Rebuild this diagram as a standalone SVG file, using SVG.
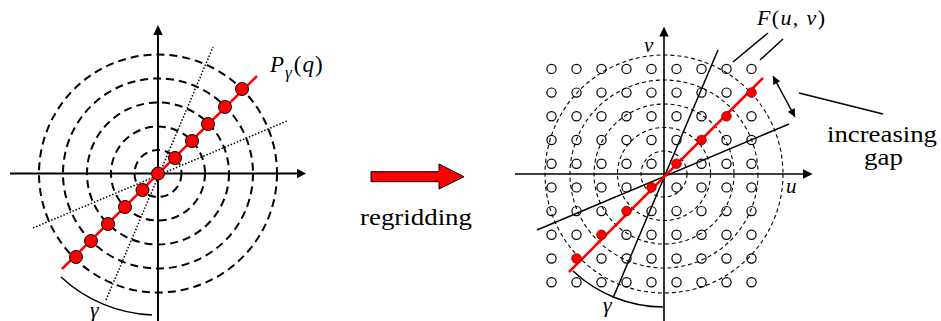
<svg xmlns="http://www.w3.org/2000/svg" xmlns:xlink="http://www.w3.org/1999/xlink" width="941" height="321" viewBox="0 0 941 321">
<style>
.dl{fill:none;stroke:#000;stroke-width:2;stroke-dasharray:8 5}
.dr{fill:none;stroke:#000;stroke-width:1.1;stroke-dasharray:4 3}
.ax{fill:none;stroke:#000;stroke-width:2}
.axr{fill:none;stroke:#000;stroke-width:1.6}
.dot{fill:none;stroke:#000;stroke-width:1.5;stroke-dasharray:1.5 1.8}
.ln{fill:none;stroke:#000;stroke-width:1.5}
.red{fill:none;stroke:#f00;stroke-width:2.5}
.rp{fill:#f00;stroke:#000;stroke-width:1}
.rg{fill:#f00;stroke:#700;stroke-width:0.8}
.gc{fill:none;stroke:#000;stroke-width:1.2}
text{font-family:"Liberation Serif","LiberationSerif","Times New Roman",Times,"DejaVu Serif","Noto Serif",FreeSerif,serif;fill:#000}
.m{font-style:italic}
</style>
<defs>
<circle id="g" r="4.6" class="gc"/>
<marker id="ah" viewBox="0 0 10 10" refX="10" refY="5" markerWidth="10" markerHeight="8" markerUnits="userSpaceOnUse" orient="auto-start-reverse"><path d="M0,0 L10,5 L0,10 z" fill="#000"/></marker>
</defs>

<g id="left-panel">
<g id="left-circles">
<circle cx="158" cy="173.5" r="23.5" class="dl"/>
<circle cx="158" cy="173.5" r="47" class="dl"/>
<circle cx="158" cy="173.5" r="71" class="dl"/>
<circle cx="158" cy="173.5" r="95" class="dl"/>
<circle cx="158" cy="173.5" r="119" class="dl"/>
</g>
<g id="left-axes">
<line x1="10" y1="173.5" x2="298" y2="173.5" class="ax"/>
<path d="M306,173.5 L297,168.8 L297,178.2 z" fill="#000"/>
<line x1="158" y1="321" x2="158" y2="34" class="ax"/>
<path d="M158,25 L153.3,35 L162.7,35 z" fill="#000"/>
</g>
<g id="left-dotted">
<line x1="33" y1="228" x2="287" y2="121" class="dot"/>
<line x1="106" y1="300" x2="213" y2="47" class="dot"/>
</g>
<path id="left-arc" d="M61,277 A141.7,141.7 0 0 0 152,315" class="ln"/>
<line x1="62" y1="269" x2="257" y2="76" class="red"/>
<g id="left-points">
<circle cx="242" cy="89" r="6.5" class="rp"/>
<circle cx="225" cy="107" r="6.5" class="rp"/>
<circle cx="208" cy="124" r="6.5" class="rp"/>
<circle cx="192" cy="141" r="6.5" class="rp"/>
<circle cx="175" cy="158" r="6.5" class="rp"/>
<circle cx="158" cy="173.5" r="6.5" class="rp"/>
<circle cx="142.5" cy="190" r="6.5" class="rp"/>
<circle cx="125" cy="207" r="6.5" class="rp"/>
<circle cx="108" cy="224" r="6.5" class="rp"/>
<circle cx="91" cy="241" r="6.5" class="rp"/>
<circle cx="76" cy="257" r="6.5" class="rp"/>
</g>
<text font-size="23" x="270" y="72"><tspan class="m">P</tspan><tspan class="m" font-size="17" dx="1" dy="6">γ</tspan><tspan dx="2" dy="-6">(</tspan><tspan class="m" dx="1">q</tspan><tspan dx="1">)</tspan></text>
<text class="m" x="90" y="317" font-size="22">γ</text>
</g>

<g id="regrid-arrow">
<path d="M371,171.7 L439,171.7 L439,164 L464,176.7 L439,189 L439,181.7 L371,181.7 z" fill="#f00" stroke="#000" stroke-width="1"/>
<text x="360" y="225" font-size="23" textLength="112" lengthAdjust="spacingAndGlyphs">regridding</text>
</g>

<g id="right-panel">
<g id="right-circles">
<circle cx="664" cy="174" r="23" class="dr"/>
<circle cx="664" cy="174" r="46.5" class="dr"/>
<circle cx="664" cy="174" r="70" class="dr"/>
<circle cx="664" cy="174" r="94" class="dr"/>
<circle cx="664" cy="174" r="119" class="dr"/>
</g>
<g id="grid">
<use xlink:href="#g" x="551.5" y="68.9"/><use xlink:href="#g" x="576.5" y="68.9"/><use xlink:href="#g" x="601.5" y="68.9"/><use xlink:href="#g" x="626.5" y="68.9"/><use xlink:href="#g" x="651.5" y="68.9"/><use xlink:href="#g" x="676.5" y="68.9"/><use xlink:href="#g" x="701.5" y="68.9"/><use xlink:href="#g" x="726.5" y="68.9"/><use xlink:href="#g" x="751.5" y="68.9"/>
<use xlink:href="#g" x="551.5" y="92.6"/><use xlink:href="#g" x="576.5" y="92.6"/><use xlink:href="#g" x="601.5" y="92.6"/><use xlink:href="#g" x="626.5" y="92.6"/><use xlink:href="#g" x="651.5" y="92.6"/><use xlink:href="#g" x="676.5" y="92.6"/><use xlink:href="#g" x="701.5" y="92.6"/><use xlink:href="#g" x="726.5" y="92.6"/>
<use xlink:href="#g" x="551.5" y="116.3"/><use xlink:href="#g" x="576.5" y="116.3"/><use xlink:href="#g" x="601.5" y="116.3"/><use xlink:href="#g" x="626.5" y="116.3"/><use xlink:href="#g" x="651.5" y="116.3"/><use xlink:href="#g" x="676.5" y="116.3"/><use xlink:href="#g" x="701.5" y="116.3"/><use xlink:href="#g" x="751.5" y="116.3"/>
<use xlink:href="#g" x="551.5" y="140"/><use xlink:href="#g" x="576.5" y="140"/><use xlink:href="#g" x="601.5" y="140"/><use xlink:href="#g" x="626.5" y="140"/><use xlink:href="#g" x="651.5" y="140"/><use xlink:href="#g" x="676.5" y="140"/><use xlink:href="#g" x="726.5" y="140"/><use xlink:href="#g" x="751.5" y="140"/>
<use xlink:href="#g" x="551.5" y="163.7"/><use xlink:href="#g" x="576.5" y="163.7"/><use xlink:href="#g" x="601.5" y="163.7"/><use xlink:href="#g" x="626.5" y="163.7"/><use xlink:href="#g" x="651.5" y="163.7"/><use xlink:href="#g" x="701.5" y="163.7"/><use xlink:href="#g" x="726.5" y="163.7"/><use xlink:href="#g" x="751.5" y="163.7"/>
<use xlink:href="#g" x="551.5" y="187.4"/><use xlink:href="#g" x="576.5" y="187.4"/><use xlink:href="#g" x="601.5" y="187.4"/><use xlink:href="#g" x="626.5" y="187.4"/><use xlink:href="#g" x="676.5" y="187.4"/><use xlink:href="#g" x="701.5" y="187.4"/><use xlink:href="#g" x="726.5" y="187.4"/><use xlink:href="#g" x="751.5" y="187.4"/>
<use xlink:href="#g" x="551.5" y="211.1"/><use xlink:href="#g" x="576.5" y="211.1"/><use xlink:href="#g" x="601.5" y="211.1"/><use xlink:href="#g" x="651.5" y="211.1"/><use xlink:href="#g" x="676.5" y="211.1"/><use xlink:href="#g" x="701.5" y="211.1"/><use xlink:href="#g" x="726.5" y="211.1"/><use xlink:href="#g" x="751.5" y="211.1"/>
<use xlink:href="#g" x="551.5" y="234.8"/><use xlink:href="#g" x="576.5" y="234.8"/><use xlink:href="#g" x="626.5" y="234.8"/><use xlink:href="#g" x="651.5" y="234.8"/><use xlink:href="#g" x="676.5" y="234.8"/><use xlink:href="#g" x="701.5" y="234.8"/><use xlink:href="#g" x="726.5" y="234.8"/><use xlink:href="#g" x="751.5" y="234.8"/>
<use xlink:href="#g" x="551.5" y="258.5"/><use xlink:href="#g" x="601.5" y="258.5"/><use xlink:href="#g" x="626.5" y="258.5"/><use xlink:href="#g" x="651.5" y="258.5"/><use xlink:href="#g" x="676.5" y="258.5"/><use xlink:href="#g" x="701.5" y="258.5"/><use xlink:href="#g" x="726.5" y="258.5"/><use xlink:href="#g" x="751.5" y="258.5"/>
<use xlink:href="#g" x="551.5" y="282.2"/><use xlink:href="#g" x="576.5" y="282.2"/><use xlink:href="#g" x="601.5" y="282.2"/><use xlink:href="#g" x="626.5" y="282.2"/><use xlink:href="#g" x="651.5" y="282.2"/><use xlink:href="#g" x="676.5" y="282.2"/><use xlink:href="#g" x="701.5" y="282.2"/><use xlink:href="#g" x="726.5" y="282.2"/><use xlink:href="#g" x="751.5" y="282.2"/>
</g>
<g id="right-axes">
<line x1="515" y1="174" x2="804" y2="174" class="axr"/>
<path d="M812.7,174 L803,169.3 L803,178.7 z" fill="#000"/>
<line x1="664" y1="321" x2="664" y2="35" class="axr"/>
<path d="M664,26.7 L659.3,36.5 L668.7,36.5 z" fill="#000"/>
</g>
<g id="right-lines">
<line x1="537" y1="230" x2="789" y2="124" class="ln"/>
<line x1="613" y1="298" x2="718" y2="50" class="ln"/>
<path d="M573,271 A133,133 0 0 0 663,307" class="ln"/>
</g>
<line x1="569" y1="272" x2="763" y2="78" class="red" stroke-width="2.2"/>
<g id="right-points">
<circle cx="751.5" cy="92.6" r="4.8" class="rg"/>
<circle cx="726.5" cy="116.3" r="4.8" class="rg"/>
<circle cx="701.5" cy="140" r="4.8" class="rg"/>
<circle cx="676.5" cy="163.7" r="4.8" class="rg"/>
<circle cx="651.5" cy="187.4" r="4.8" class="rg"/>
<circle cx="626.5" cy="211.1" r="4.8" class="rg"/>
<circle cx="601.5" cy="234.8" r="4.8" class="rg"/>
<circle cx="576.5" cy="258.5" r="4.8" class="rg"/>
</g>
<g id="connectors">
<line x1="733" y1="62" x2="768" y2="33" class="ln" stroke-width="1.3"/>
<line x1="760" y1="60" x2="783" y2="39" class="ln" stroke-width="1.3"/>
<line x1="773" y1="76" x2="795" y2="117" class="ln" marker-start="url(#ah)" marker-end="url(#ah)"/>
<line x1="799" y1="93" x2="883" y2="114" class="ln" stroke-width="1.3"/>
</g>
<text class="m" x="644" y="52" font-size="21">v</text>
<text class="m" x="786" y="193" font-size="21">u</text>
<text class="m" x="603" y="312" font-size="22">γ</text>
<text x="757" y="25" font-size="22" textLength="68" lengthAdjust="spacing"><tspan class="m">F</tspan>(<tspan class="m">u</tspan>, <tspan class="m">v</tspan>)</text>
<text x="827" y="142" font-size="23" textLength="110" lengthAdjust="spacingAndGlyphs">increasing</text>
<text x="864" y="165" font-size="23" textLength="39" lengthAdjust="spacingAndGlyphs">gap</text>
</g>
</svg>
